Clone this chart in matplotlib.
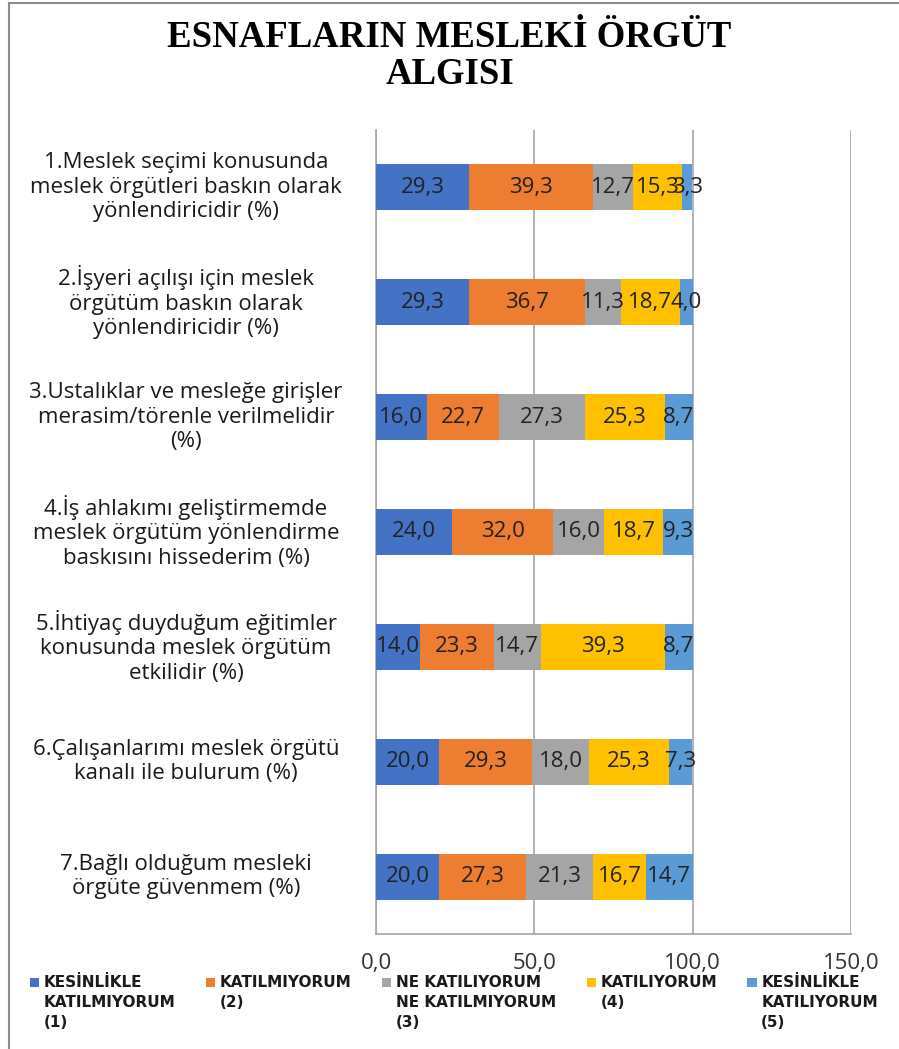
import matplotlib
matplotlib.use("Agg")
import matplotlib.pyplot as plt
from matplotlib.patches import Rectangle
import numpy as np

# ---- data ----
categories = [
    "1.Meslek seçimi konusunda\nmeslek örgütleri baskın olarak\nyönlendiricidir (%)",
    "2.İşyeri açılışı için meslek\nörgütüm baskın olarak\nyönlendiricidir (%)",
    "3.Ustalıklar ve mesleğe girişler\nmerasim/törenle verilmelidir\n(%)",
    "4.İş ahlakımı geliştirmemde\nmeslek örgütüm yönlendirme\nbaskısını hissederim (%)",
    "5.İhtiyaç duyduğum eğitimler\nkonusunda meslek örgütüm\netkilidir (%)",
    "6.Çalışanlarımı meslek örgütü\nkanalı ile bulurum (%)",
    "7.Bağlı olduğum mesleki\nörgüte güvenmem (%)",
]
series_names = [
    "KESİNLİKLE\nKATILMIYORUM\n(1)",
    "KATILMIYORUM\n(2)",
    "NE KATILIYORUM\nNE KATILMIYORUM\n(3)",
    "KATILIYORUM\n(4)",
    "KESİNLİKLE\nKATILIYORUM\n(5)",
]
kesinlikle_katilmiyorum = [29.3, 29.3, 16.0, 24.0, 14.0, 20.0, 20.0]
katilmiyorum = [39.3, 36.7, 22.7, 32.0, 23.3, 29.3, 27.3]
ne_ne = [12.7, 11.3, 27.3, 16.0, 14.7, 18.0, 21.3]
katiliyorum = [15.3, 18.7, 25.3, 18.7, 39.3, 25.3, 16.7]
kesinlikle_katiliyorum = [3.3, 4.0, 8.7, 9.3, 8.7, 7.3, 14.7]
xticks = [0, 50, 100, 150]
title = "ESNAFLARIN MESLEKİ ÖRGÜT\nALGISI"

colors = ["#4472C4", "#ED7D31", "#A5A5A5", "#FFC000", "#5B9BD5"]
series = [kesinlikle_katilmiyorum, katilmiyorum, ne_ne, katiliyorum, kesinlikle_katiliyorum]


def fmt(v):
    return f"{v:.1f}".replace(".", ",")


W, H = 899, 1049
fig = plt.figure(figsize=(W / 100, H / 100), dpi=100)
# outer frame
fig.patches.append(Rectangle((9 / W, -0.01), 1.0, 1 - 3 / H + 0.01, transform=fig.transFigure,
                             fill=False, edgecolor="#8C8C8C", linewidth=1.5))

ax = fig.add_axes([376 / W, 1 - 934 / H, (851 - 376) / W, (934 - 130) / H])
y = np.arange(len(categories))
left = np.zeros(len(categories))
for vals, col, name in zip(series, colors, series_names):
    bars = ax.barh(y, vals, left=left, height=0.40, color=col, label=name, zorder=3)
    ax.bar_label(bars, labels=[fmt(v) for v in vals], label_type="center",
                 fontsize=16, family="Open Sans", color="#222222", zorder=4)
    left = left + np.array(vals)

ax.set_xlim(0, 150)
ax.set_ylim(len(categories) - 0.5, -0.5)
ax.set_xticks(xticks)
ax.set_xticklabels([fmt(t) for t in xticks], family="Open Sans", fontsize=16, color="#333333")
ax.tick_params(axis="x", length=0, pad=14)
ax.set_yticks([])
ax.grid(axis="x", color="#A6A6A6", linewidth=1.2, zorder=0)
for s in ["top", "right"]:
    ax.spines[s].set_visible(False)
for s in ["left", "bottom"]:
    ax.spines[s].set_color("#A6A6A6")
    ax.spines[s].set_linewidth(1.2)

for yi, cat in zip(y, categories):
    ax.text(-0.40, yi, cat, transform=ax.get_yaxis_transform(), ha="center", va="center",
            multialignment="center", family="Open Sans", fontsize=16, color="#1a1a1a",
            linespacing=1.22)

fig.text(0.5, 1 - 56 / H, title, ha="center", va="center", family="Liberation Serif",
         fontweight="bold", fontsize=26.5, linespacing=1.08)

# pad two-line labels so every entry is top aligned
padded = [n if n.count("\n") == 2 else n + "\n " for n in series_names]
handles, _ = ax.get_legend_handles_labels()
leg = fig.legend(handles, padded, loc="upper left", bbox_to_anchor=(30 / W, 1 - 975 / H), ncol=5,
                 frameon=False, prop={"family": "DejaVu Sans", "weight": "bold", "size": 11},
                 handlelength=0.6, handleheight=0.6, handletextpad=0.3, columnspacing=2.0,
                 borderaxespad=0, borderpad=0)
line_pts = 15.0
for t in leg.get_texts():
    t.set_linespacing(1.43)
    t.set_color("#1a1a1a")
for h in leg.legend_handles:
    h.set_y(h.get_y() + line_pts)
fig.savefig("out.png", dpi=100)
